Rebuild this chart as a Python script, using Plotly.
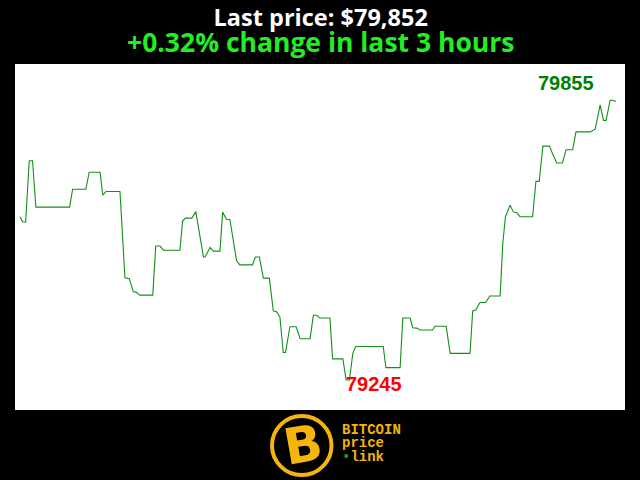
import plotly.graph_objects as go

# minutes since start of the 3-hour window
minutes = [0, 0.8, 1.7, 2.8, 3.8, 4.8, 15, 15.9, 19.9, 20.9, 24.2, 25, 26, 30.2,
           31.7, 33, 34.2, 35.2, 36.2, 40.1, 41, 42.3, 43.3, 48.3, 49.1, 49.9,
           51.9, 53.1, 55.4, 55.9, 57.4, 58.4, 60.4, 61.2, 62.4, 63.4, 65.4,
           66.4, 70.2, 71.1, 72.3, 73.5, 75.3, 76.5, 77.5, 78.5, 79.5, 80.2,
           81.5, 83.4, 84.6, 87.6, 88.6, 89.6, 90.6, 93.6, 94.4, 97.5, 98.5,
           99.5, 100.5, 101.4, 109.7, 110.5, 114.8, 115.6, 117.8, 118.6, 119.8,
           120.8, 124.6, 125.3, 128.7, 129.9, 135.9, 136.7, 137.7, 138.9, 140.6,
           141.9, 145, 145.8, 146.6, 148, 149, 150, 151, 154.8, 155.8, 156.8,
           157.9, 159.9, 160.9, 162.1, 163.8, 164.9, 166.9, 167.9, 172.2, 173.7,
           175.2, 176.2, 177, 178.2, 179, 180]
prices = [79601, 79590, 79589, 79723, 79723, 79622, 79622, 79661, 79661, 79698,
          79698, 79648, 79656, 79656, 79468, 79466, 79438, 79436, 79430, 79430,
          79537, 79537, 79528, 79528, 79591, 79598, 79598, 79612, 79513, 79513,
          79534, 79526, 79526, 79611, 79595, 79595, 79505, 79496, 79496, 79513,
          79513, 79467, 79467, 79396, 79394, 79382, 79305, 79305, 79361, 79361,
          79335, 79335, 79386, 79386, 79380, 79380, 79291, 79291, 79245, 79245,
          79303, 79318, 79318, 79272, 79272, 79380, 79380, 79359, 79358, 79354,
          79354, 79362, 79362, 79303, 79303, 79395, 79398, 79414, 79414, 79428,
          79428, 79543, 79601, 79626, 79611, 79610, 79601, 79601, 79678, 79678,
          79755, 79755, 79737, 79718, 79718, 79747, 79747, 79786, 79786, 79792,
          79845, 79811, 79811, 79855, 79855, 79852]

title_line1 = "Last price: $79,852"
title_line2 = "+0.32% change in last 3 hours"
logo_lines = ["BITCOIN", "price", "link"]

i_max = prices.index(max(prices))
i_min = prices.index(min(prices))

fig = go.Figure()
fig.add_trace(go.Scatter(x=minutes, y=prices, mode="lines",
                         line=dict(color="#14901a", width=1.1),
                         hoverinfo="skip", showlegend=False))

W, H = 640, 480
ml, mr, mt, mb = 15, 15, 64, 70
pw, ph = W - ml - mr, H - mt - mb


def px(xp):
    return (xp - ml) / pw


def py(yp):
    return (H - mb - yp) / ph


GOLD = "#f4b50c"

title_text = (f"<span style='font-size:23.5px;color:white'><b>{title_line1}</b></span><br>"
              f"<span style='font-size:26.5px;color:#22ee22'><b>{title_line2}</b></span>")
sp = "<span style='font-size:14px'>"
logo_text = (f"{sp}<b>{logo_lines[0]}</b></span><br>{sp}<b>{logo_lines[1]}</b></span><br>"
             f"{sp}<span style='color:#1fa01f'>\u2022</span><b>{logo_lines[2]}</b></span>")

annotations = [
    dict(text=title_text, x=0.5, y=py(30), xref="paper", yref="paper",
         showarrow=False, xanchor="center", yanchor="middle", align="center",
         font=dict(family="Open Sans", size=20, color="white")),
    dict(text=f"<b>{prices[i_max]}</b>", x=minutes[i_max], y=prices[i_max],
         showarrow=False, xanchor="center", yanchor="bottom", xshift=-44, yshift=4,
         font=dict(family="Liberation Sans", size=20, color="#008000")),
    dict(text=f"<b>{prices[i_min]}</b>", x=minutes[i_min], y=prices[i_min],
         showarrow=False, xanchor="left", yanchor="middle", xshift=-2, yshift=-4,
         font=dict(family="Liberation Sans", size=20, color="#ff0000")),
    # logo B
    dict(text="<b>B</b>", x=px(303), y=py(445), xref="paper", yref="paper",
         showarrow=False, xanchor="center", yanchor="middle", textangle=-10,
         font=dict(family="DejaVu Sans", size=50, color=GOLD)),
    dict(text=logo_text, x=px(340), y=py(443), xref="paper", yref="paper",
         showarrow=False, xanchor="left", yanchor="middle", align="left",
         font=dict(family="Liberation Mono", size=10.3, color=GOLD)),
]

shapes = [
    dict(type="circle", xref="paper", yref="paper",
         x0=px(272), x1=px(331.5), y0=py(475), y1=py(416),
         line=dict(color=GOLD, width=4), fillcolor="rgba(0,0,0,0)"),
]

fig.update_layout(
    width=W, height=H,
    paper_bgcolor="black", plot_bgcolor="white",
    margin=dict(l=ml, r=mr, t=mt, b=mb),
    xaxis=dict(range=[-1.5, 182.7], showgrid=False, zeroline=False,
               showticklabels=False, ticks="", fixedrange=True),
    yaxis=dict(range=[79179.5, 79934], showgrid=False, zeroline=False,
               showticklabels=False, ticks="", fixedrange=True),
    annotations=annotations, shapes=shapes, showlegend=False,
)

fig.write_html("out.html", config={"displayModeBar": False},
               post_script="document.body.style.margin='0';"
                           "document.body.style.background='black';")
